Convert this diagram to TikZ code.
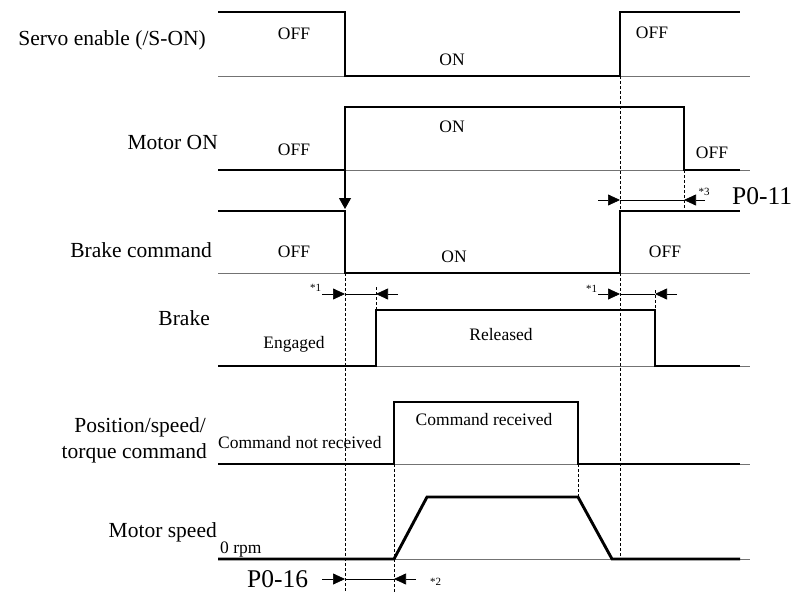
\documentclass[tikz,border=0pt]{standalone}
\usepackage{fontspec}
\setmainfont{Liberation Serif}
\usetikzlibrary{arrows.meta,positioning}

\begin{document}
\begin{tikzpicture}[x=1pt,y=-1pt,
  sig/.style={line width=2.9pt,line join=miter},
  baseln/.style={line width=0.8pt,black!55},
  guide/.style={line width=0.7pt,dash pattern=on 3pt off 2pt},
  dim/.style={line width=0.7pt},
  tip/.style={-{Triangle[length=12pt,width=11pt]},line width=0.7pt},
  lbl/.style={font=\fontsize{21.5}{26}\selectfont,inner sep=0pt,anchor=base east},
  st/.style={font=\fontsize{17.5}{20}\selectfont,inner sep=0pt,anchor=base},
  note/.style={font=\fontsize{11}{12}\selectfont,inner sep=0pt,anchor=base},
  prm/.style={font=\fontsize{25.5}{28}\selectfont,inner sep=0pt,anchor=base west}]
\useasboundingbox (0,0) rectangle (792,592);

% zero lines
\foreach \y in {76,170,273,366,464,559}
  \draw[baseln] (218,\y) -- (750,\y);

% signals
\draw[sig] (218,12) -| (345,76) -| (620,12) -- (740,12);
\draw[sig] (218,170) -| (345,107) -| (684,170) -- (740,170);
\draw[sig] (218,211) -| (345,273) -| (620,211) -- (740,211);
\draw[sig] (218,366) -| (376,310) -| (655,366) -- (740,366);
\draw[sig] (218,464) -| (394,402) -| (578,464) -- (740,464);
\draw[sig] (218,559) -- (394,559) -- (427,497) -- (578,497) -- (612,559) -- (740,559);

% guide lines
\draw[guide] (345,273) -- (345,592);
\draw[guide] (620,76) -- (620,211);
\draw[guide] (620,273) -- (620,559);
\draw[guide] (684,170) -- (684,208);
\draw[guide] (376,287) -- (376,310);
\draw[guide] (655,290) -- (655,310);
\draw[guide] (394,464) -- (394,592);
\draw[guide] (578,464) -- (578,497);

% motor on -> brake command
\coordinate (monup) at (345,170);
\coordinate (bcmd) at (345,209);
\draw[-{Triangle[length=11pt,width=12pt]},line width=1.1pt] (monup) -- (bcmd);

% delay arrows
\foreach \n/\y/\xa/\xb/\xc/\xd in {bka/294/322/345/376/398,bkb/294/598/620/655/677,moff/200/598/620/684/705,spd/579/322/345/394/416}{
  \coordinate (\n-o1) at (\xa,\y);
  \coordinate (\n-i1) at (\xb,\y);
  \coordinate (\n-i2) at (\xc,\y);
  \coordinate (\n-o2) at (\xd,\y);
  \draw[tip] (\n-o1) -- (\n-i1);
  \draw[tip] (\n-o2) -- (\n-i2);
  \draw[dim] (\n-i1) -- (\n-i2);
}

% signal names
\node[lbl] (nServo) at (206,45) {Servo enable (/S-ON)};
\node[lbl] (nMotor) at (218,149) {Motor ON};
\node[lbl] (nBcmd) at (212,257) {Brake command};
\node[lbl] (nBrake) at (210,325) {Brake};
\node[lbl] (nPos) at (206,432) {Position/speed/};
\node[lbl] (nTrq) at (207,458) {torque command};
\node[lbl] (nSpeed) at (217,537) {Motor speed};

% states
\node[st] (s1) at (294,39) {OFF};
\node[st] (s2) at (452,65) {ON};
\node[st] (s3) at (652,38) {OFF};
\node[st] (s4) at (294,155) {OFF};
\node[st] (s5) at (452,132) {ON};
\node[st] (s6) at (712,158) {OFF};
\node[st] (s7) at (294,257) {OFF};
\node[st] (s8) at (454,262) {ON};
\node[st] (s9) at (665,257) {OFF};
\node[st] (s10) at (294,348) {Engaged};
\node[st] (s11) at (501,340) {Released};
\node[st,anchor=base west] (s12) at (218,448) {Command not received};
\node[st] (s13) at (484,425) {Command received};
\node[st,anchor=base west] (s14) at (220,553) {0 rpm};

% notes and parameters
\node[note] (m1) at (315.5,291) {*1};
\node[note] (m2) at (591.5,292) {*1};
\node[note] (m3) at (704,195) {*3};
\node[note] (m4) at (435.5,585) {*2};
\node[prm] (p11) at (732,204) {P0-11};
\node[prm] (p16) at (247,587) {P0-16};
\end{tikzpicture}
\end{document}
